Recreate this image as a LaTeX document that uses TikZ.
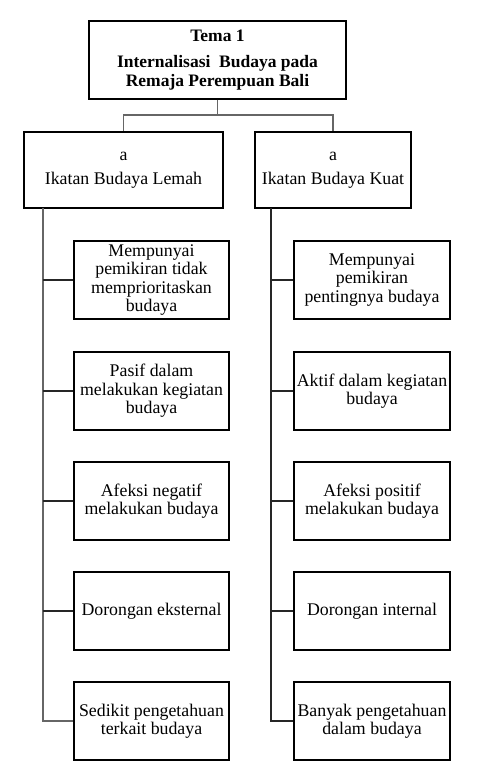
\documentclass[tikz,border=0pt]{standalone}
\usepackage{fontspec}
\setmainfont{Liberation Serif}
\tikzset{
  kotak/.style={draw=black,line width=1.4pt,align=center,inner sep=2pt,
    minimum height=78pt,font=\fontsize{17.8}{18.5}\selectfont},
  garis/.style={draw=black!60,line width=1.7pt},
  cabang/.style={draw=black!85,line width=1.2pt}
}
\begin{document}
\begin{tikzpicture}[x=1pt,y=-1pt]
\useasboundingbox (0,0) rectangle (489,766);

\node[kotak,minimum width=257pt,font=\fontsize{17.5}{19}\selectfont\bfseries] (tema) at (217.5,60)
  {Tema 1\\[7pt]Internalisasi\ \ Budaya pada\\Remaja Perempuan Bali};

\node[kotak,minimum width=199pt,minimum height=76pt] (lemah) at (123.5,170)
  {a\\[6pt]Ikatan Budaya Lemah};
\node[kotak,minimum width=156pt,minimum height=76pt] (kuat) at (333,170)
  {a\\[6pt]Ikatan Budaya Kuat};

% sisi kiri
\node[kotak,minimum width=155pt] (l1) at (151.5,280) {Mempunyai\\pemikiran tidak\\memprioritaskan\\budaya};
\node[kotak,minimum width=155pt] (l2) at (151.5,391) {Pasif dalam\\melakukan kegiatan\\budaya};
\node[kotak,minimum width=155pt] (l3) at (151.5,501) {Afeksi negatif\\melakukan budaya};
\node[kotak,minimum width=155pt] (l4) at (151.5,611) {Dorongan eksternal};
\node[kotak,minimum width=155pt] (l5) at (151.5,721) {Sedikit pengetahuan\\terkait budaya};

% sisi kanan
\node[kotak,minimum width=156pt] (r1) at (372,280) {Mempunyai\\pemikiran\\pentingnya budaya};
\node[kotak,minimum width=156pt] (r2) at (372,391) {Aktif dalam kegiatan\\budaya};
\node[kotak,minimum width=156pt] (r3) at (372,501) {Afeksi positif\\melakukan budaya};
\node[kotak,minimum width=156pt] (r4) at (372,611) {Dorongan internal};
\node[kotak,minimum width=156pt] (r5) at (372,721) {Banyak pengetahuan\\dalam budaya};

\coordinate (bagi) at (217.5,115);
\coordinate (ltop) at (43,208);
\coordinate (rtop) at (271,208);

\draw[garis] (tema.south) -- (bagi);
\draw[garis] (bagi) -| (lemah.north);
\draw[garis] (bagi) -| (kuat.north);

\draw[garis] (ltop) |- (l5.west);
\draw[cabang] (rtop) |- (r5.west);
\foreach \i in {1,...,4}{
  \draw[cabang] (l\i.west) -- (l\i.west -| ltop);
  \draw[cabang] (r\i.west) -- (r\i.west -| rtop);
}
\end{tikzpicture}
\end{document}
